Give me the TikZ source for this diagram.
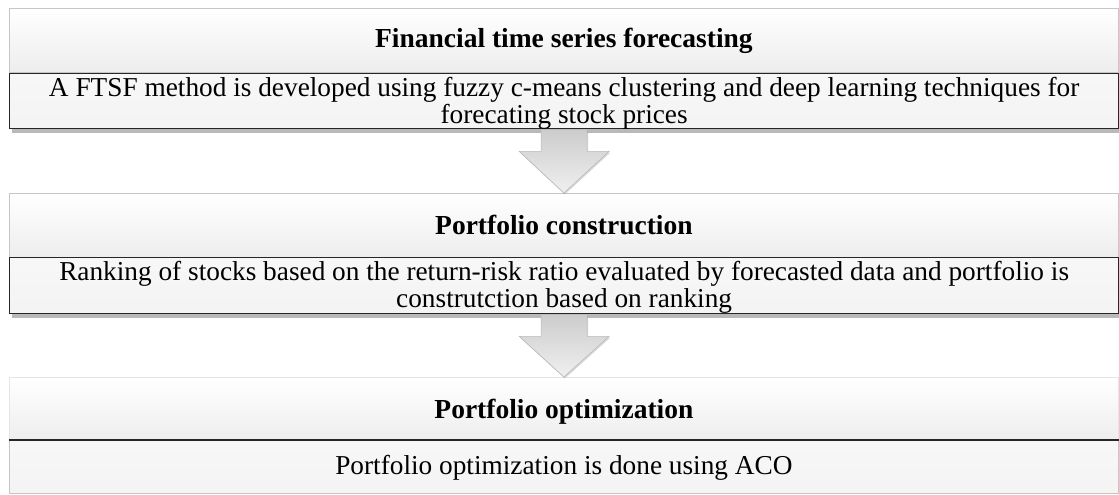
\documentclass[tikz,border=0pt]{standalone}
\usepackage{fontspec}
\setmainfont{Liberation Serif}
\usetikzlibrary{calc,shadows}
\tikzset{
  headbox/.style={rectangle, draw=gray!45, line width=0.8pt, top color=white, bottom color=gray!14,
    minimum width=1109pt, minimum height=64pt, inner sep=0pt, anchor=north west,
    drop shadow={opacity=0.25, shadow xshift=1pt, shadow yshift=-2pt}},
  detailbox/.style={rectangle, draw=black!85, line width=1.3pt, top color=gray!6, bottom color=gray!9,
    minimum width=1109pt, inner sep=0pt, anchor=north west},
  shadowed/.style={drop shadow={opacity=0.55, shadow xshift=2pt, shadow yshift=-4pt}},
  headtext/.style={font=\fontsize{27.5}{30}\selectfont\bfseries, inner sep=0pt},
  bodytext/.style={font=\fontsize{27.3}{26.5}\selectfont, align=center, inner sep=0pt},
  flowarrow/.style={draw=gray!55, line width=0.6pt, top color=gray!40, bottom color=gray!12,
    drop shadow={opacity=0.3, shadow xshift=1pt, shadow yshift=-1.5pt}},
}
\begin{document}
\begin{tikzpicture}[x=1pt,y=-1pt]
  \useasboundingbox (0,0) rectangle (1119,495);

  % Stage 1: forecasting
  \node[headbox] (h1) at (9,8) {};
  \node[headtext] (h1t) at (h1.center) {Financial time series forecasting};
  \node[detailbox, shadowed, minimum height=55pt] (d1) at (9,73) {};
  \node[bodytext, anchor=north] (d1t) at ($(d1.north)+(0,4.5)$)
    {A FTSF method is developed using fuzzy c-means clustering and deep learning techniques for\\ forecating stock prices};

  % Stage 2: portfolio construction
  \node[headbox] (h2) at (9,193) {};
  \node[headtext] (h2t) at (h2.center) {Portfolio construction};
  \node[detailbox, shadowed, minimum height=56pt] (d2) at (9,257) {};
  \node[bodytext, anchor=north] (d2t) at ($(d2.north)+(0,4.5)$)
    {Ranking of stocks based on the return-risk ratio evaluated by forecasted data and portfolio is\\ construtction based on ranking};

  % Stage 3: portfolio optimization
  \node[headbox, draw=gray!20, drop shadow={opacity=0}] (h3) at (9,377) {};
  \node[headtext] (h3t) at ($(h3.center)+(0,2)$) {Portfolio optimization};
  \node[detailbox, draw=gray!45, line width=0.8pt, minimum height=53pt] (d3) at (9,440) {};
  \draw[black!85, line width=1.3pt] (d3.north west) -- (d3.north east);
  \node[bodytext] (d3t) at ($(d3.center)+(0,1)$) {Portfolio optimization is done using ACO};

  % Block arrows between stages
  \foreach \a/\b in {d1/h2, d2/h3}{
    \path[flowarrow] ($(\a.south)+(-23,0)$) -- ($(\a.south)+(-23,22)$) -- ($(\a.south)+(-45,22)$)
      -- (\b.north) -- ($(\a.south)+(45,22)$) -- ($(\a.south)+(23,22)$) -- ($(\a.south)+(23,0)$) -- cycle;
  }
\end{tikzpicture}
\end{document}
